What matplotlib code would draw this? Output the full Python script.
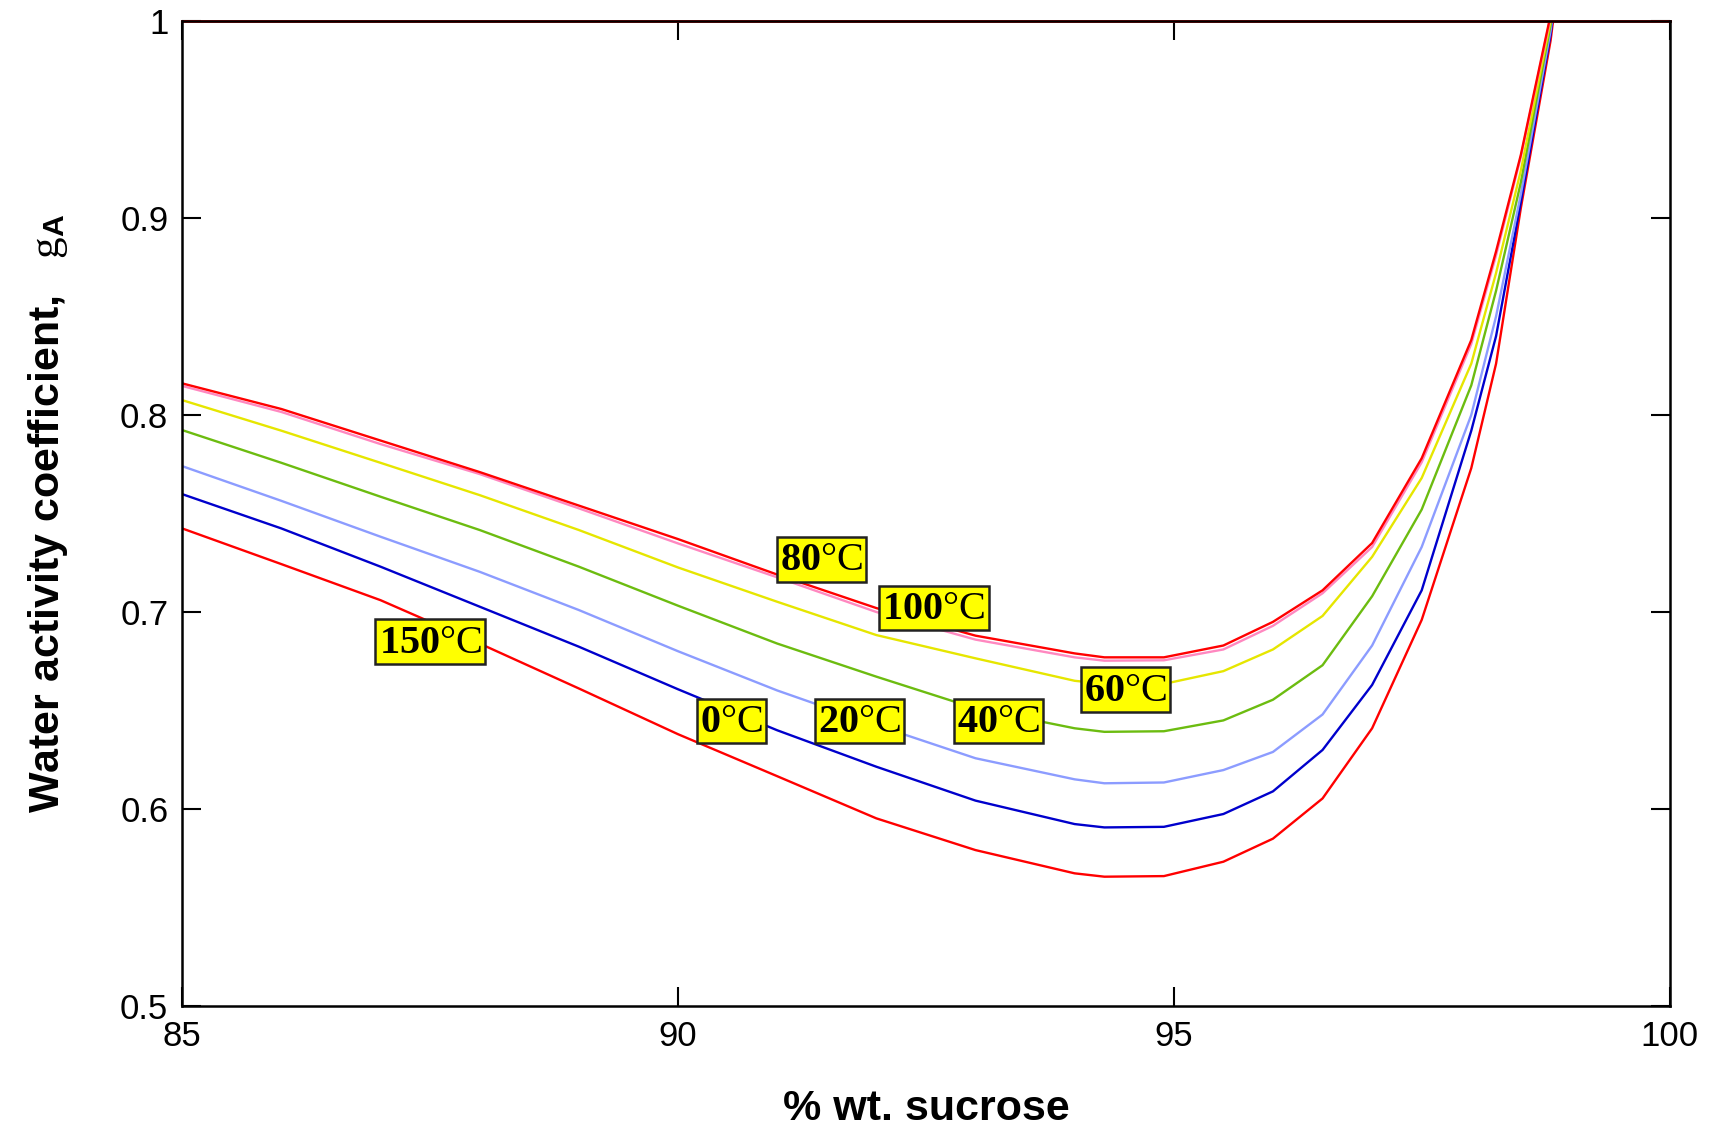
import matplotlib
matplotlib.use('Agg')
import matplotlib.pyplot as plt

plt.rcParams['font.family'] = ['Liberation Sans', 'DejaVu Sans']
plt.rcParams['mathtext.fontset'] = 'custom'
plt.rcParams['mathtext.rm'] = 'Liberation Serif'
plt.rcParams['mathtext.bf'] = 'Liberation Serif:bold'
plt.rcParams['mathtext.sf'] = 'Liberation Sans:bold'
plt.rcParams['mathtext.it'] = 'Liberation Serif:italic'

# % wt. sucrose
x = [85, 86, 87, 88, 89, 90, 91, 92, 93, 94, 94.3, 94.9, 95.5, 96, 96.5,
     97, 97.5, 98, 98.25, 98.5, 98.8, 99.0]

# water activity coefficient
g_80 = [0.816, 0.803, 0.787, 0.771, 0.754, 0.737, 0.719, 0.702, 0.688, 0.679,
        0.677, 0.677, 0.683, 0.695, 0.711, 0.735, 0.778, 0.838, 0.883, 0.932,
        1.003, 1.07]
g_100 = [0.8147, 0.8015, 0.7852, 0.770, 0.7526, 0.7348, 0.7176, 0.700, 0.686,
         0.677, 0.6753, 0.6755, 0.681, 0.693, 0.7095, 0.733, 0.776, 0.836,
         0.881, 0.931, 1.002, 1.07]
g_60 = [0.8075, 0.792, 0.7757, 0.7593, 0.7416, 0.7226, 0.7052, 0.6883, 0.6765,
        0.6651, 0.6635, 0.6635, 0.670, 0.681, 0.698, 0.728, 0.768, 0.826,
        0.872, 0.924, 1.0, 1.07]
g_40 = [0.7923, 0.7757, 0.7585, 0.7416, 0.723, 0.7032, 0.684, 0.6672, 0.6511,
        0.641, 0.6392, 0.6395, 0.645, 0.6555, 0.673, 0.708, 0.752, 0.815,
        0.863, 0.918, 0.998, 1.07]
g_20 = [0.774, 0.7564, 0.7382, 0.7204, 0.701, 0.6801, 0.6602, 0.6426, 0.6258,
        0.6151, 0.6131, 0.6135, 0.6198, 0.629, 0.648, 0.683, 0.733, 0.80,
        0.85, 0.912, 0.995, 1.07]
g_0 = [0.7598, 0.7424, 0.723, 0.7027, 0.6824, 0.6608, 0.640, 0.6215, 0.6043,
       0.5924, 0.5907, 0.591, 0.5975, 0.609, 0.630, 0.663, 0.711, 0.792,
       0.840, 0.908, 0.993, 1.07]
g_150 = [0.7424, 0.7243, 0.706, 0.684, 0.6612, 0.638, 0.6167, 0.5953, 0.5792,
         0.5674, 0.5657, 0.566, 0.5733, 0.585, 0.6054, 0.641, 0.696, 0.773,
         0.826, 0.905, 0.99, 1.07]

ideal_x = [85, 100]
ideal_g = [1.0, 1.0]

temps = ['0', '20', '40', '60', '80', '100', '150']
label_x = [90.54, 91.83, 93.23, 94.51, 91.45, 92.58, 87.50]
label_y = [0.6448, 0.6448, 0.6448, 0.6606, 0.7267, 0.702, 0.685]

series = [
    (g_150, '#ff0000'),
    (g_0, '#0000cc'),
    (g_20, '#8c9cff'),
    (g_40, '#6cbc10'),
    (g_60, '#e6e600'),
    (g_100, '#ff88c0'),
    (g_80, '#ff0000'),
]

fig = plt.figure(figsize=(17.11, 11.28), dpi=100)
ax = fig.add_axes([0.1065, 0.108, 0.8693, 0.8736])

for g, c in series:
    ax.plot(x, g, color=c, lw=1.7)
ax.plot(ideal_x, ideal_g, color='#ff0000', lw=2.0, clip_on=False)

for t, lx, ly in zip(temps, label_x, label_y):
    ax.text(lx, ly, r'$\mathbf{%s}\mathrm{°C}$' % t, fontsize=29,
            ha='center', va='center', zorder=5,
            bbox=dict(boxstyle='square,pad=0.08', fc='#ffff00', ec='#222222', lw=1.8))

ax.set_xlim(85, 100)
ax.set_ylim(0.5, 1.0)
ax.set_xticks([85, 90, 95, 100])
ax.set_yticks([0.5, 0.6, 0.7, 0.8, 0.9, 1.0])
ax.set_yticklabels(['0.5', '0.6', '0.7', '0.8', '0.9', '1'])
ax.tick_params(direction='in', length=14, width=1.5, labelsize=25, pad=10,
               top=True, right=True)
for s in ax.spines.values():
    s.set_linewidth(1.8)

ax.set_xlabel('% wt. sucrose', fontsize=31, fontweight='bold', labelpad=26)
ax.set_ylabel(r'Water activity coefficient,   $\mathrm{g}_{\mathsf{A}}$',
              fontsize=31, fontweight='bold', labelpad=36)

fig.savefig('out.png', dpi=100)
